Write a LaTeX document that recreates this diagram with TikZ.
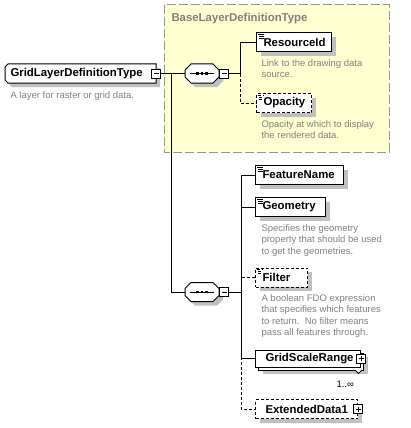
\documentclass[tikz,border=0pt]{standalone}
\usepackage{fontspec}
\setmainfont{Liberation Sans}
\usetikzlibrary{shadows}
\definecolor{ybg}{RGB}{255,255,208}
\definecolor{ybd}{RGB}{150,150,150}
\definecolor{dtxt}{RGB}{128,128,128}
\definecolor{shd}{RGB}{192,192,192}
\newcommand\octshape[4]{(#1+6,#2) -- (#3-6,#2) -- (#3,#2+6) -- (#3,#4-6) -- (#3-6,#4) -- (#1+6,#4) -- (#1,#4-6) -- (#1,#2+6) -- cycle}
\newcommand\lb[2]{\makebox[#1pt][l]{#2}}
\begin{document}
\begin{tikzpicture}[x=1pt,y=-1pt,line width=1pt,
  lbl/.style={font=\fontsize{11.4}{13}\selectfont\bfseries},
  desc/.style={font=\fontsize{9.5}{11.5}\selectfont, text=dtxt, align=left, anchor=north west, inner sep=0pt},
  elemns/.style={draw, fill=white, lbl, minimum height=19pt, inner ysep=0pt, inner xsep=7pt, anchor=west},
  elem/.style={elemns, drop shadow={shadow xshift=4pt, shadow yshift=-4pt, fill=shd, opacity=1}},
  icon/.style={path picture={
      \draw[line width=0.8pt] ([shift={(1.5,1.5)}]path picture bounding box.north west) -- +(6,0);
      \draw[line width=0.8pt] ([shift={(2.5,3.5)}]path picture bounding box.north west) -- +(5,0);
      \draw[line width=0.8pt] ([shift={(2.5,5.5)}]path picture bounding box.north west) -- +(5,0);}},
  opt/.style={dash pattern=on 3pt off 2pt},
  pmbox/.style={draw, fill=white, minimum size=9pt, inner sep=0pt, line width=0.9pt},
  minus/.style={pmbox, path picture={
      \draw[line width=0.9pt] ([xshift=2pt]path picture bounding box.west) -- ([xshift=-2pt]path picture bounding box.east);}},
  plus/.style={pmbox, path picture={
      \draw[line width=0.9pt] ([xshift=2pt]path picture bounding box.west) -- ([xshift=-2pt]path picture bounding box.east);
      \draw[line width=0.9pt] ([yshift=2pt]path picture bounding box.south) -- ([yshift=-2pt]path picture bounding box.north);}},
  seq/.style={minimum width=34pt, minimum height=19pt, inner sep=0pt}
]
\useasboundingbox (0,0) rectangle (410,428);

% base type group
\draw[ybd, fill=ybg, dash pattern=on 9pt off 3pt] (164,5) rectangle (389,152);
\node[lbl, text=dtxt, anchor=west, inner sep=0pt] (title) at (171,19) {BaseLayerDefinitionType};

% root complex type
\fill[shd] (12,68) -- (160,68) -- (160,87) -- (12,87) -- (9,84) -- (9,71) -- cycle;
\draw[fill=white] (8,64) -- (156,64) -- (156,83) -- (8,83) -- (5,80) -- (5,67) -- cycle;
\node[lbl, anchor=west, inner xsep=5pt, inner ysep=0pt, minimum height=19pt] (gl) at (5,73.5) {\lb{141}{GridLayerDefinitionType}};
\node[minus] (glm) at (156,73.5) {};
\node[desc] (gld) at (10,91) {A layer for raster or grid data.};

% sequence 1
\fill[shd] \octshape{189}{68}{223}{87};
\draw[fill=white] \octshape{185}{64}{219}{83};
\node[seq] (s1) at (202,73.5) {};
\draw (s1.center) ++(-12,0) -- ++(24,0);
\foreach \d in {-4.5,0,4.5} \fill ([xshift=\d pt]s1.center) +(-1.4,-1.4) rectangle +(1.4,1.4);
\node[minus] (s1m) at (224,73.5) {};

% sequence 2
\fill[shd] \octshape{189}{286.5}{223}{305.5};
\draw[fill=white] \octshape{185}{282.5}{219}{301.5};
\node[seq] (s2) at (202,292) {};
\draw (s2.center) ++(-12,0) -- ++(24,0);
\foreach \d in {-4.5,0,4.5} \fill ([xshift=\d pt]s2.center) +(-1.4,-1.4) rectangle +(1.4,1.4);
\node[minus] (s2m) at (224,292) {};

% elements of base type
\node[elem, icon] (rid) at (256,42.5) {\lb{61}{ResourceId}};
\node[desc] (ridd) at (261,59) {Link to the drawing data\\source.};
\node[elem, icon, opt] (opa) at (256,103) {\lb{41}{Opacity}};
\node[desc] (opad) at (261,120) {Opacity at which to display\\the rendered data.};

% elements of extension
\node[elem, icon] (fn) at (255,175) {\lb{74}{FeatureName}};
\node[elem, icon] (geo) at (255,207) {\lb{56}{Geometry}};
\node[desc] (geod) at (261,224) {Specifies the geometry\\property that should be used\\to get the geometries.};
\node[elem, icon, opt] (fil) at (255,277.5) {\lb{38}{Filter}};
\node[desc] (fild) at (261,294) {A boolean FDO expression\\that specifies which features\\to return.\ \ No filter means\\pass all features through.};

\node[elem, minimum height=17pt, inner xsep=10pt] (gsrb) at (258,361.5) {\lb{85}{}};
\node[elemns, minimum height=17pt, inner xsep=10pt] (gsr) at (255,358.5) {\lb{85}{GridScaleRange}};
\node[plus] (gsrp) at (gsr.east) {};
\draw[fill=white, line width=0.8pt] (355,370) -- (358.5,373.5) -- (362,370);
\node[font=\fontsize{9.5}{11}\selectfont, anchor=west, inner sep=0pt] (mult) at (336,384) {1..∞};

\node[elem, opt, inner xsep=10pt] (ext) at (255,409) {\lb{82}{ExtendedData1}};
\node[plus] (extp) at (ext.east) {};

% connectors
\coordinate (j0) at (171,73.5);
\coordinate (b1) at (240,73.5);
\coordinate (b2) at (241,292);
\draw (glm.east) -- (s1.west);
\draw (j0) |- (s2.west);
\draw (s1m.east) -- (b1);
\draw[opt] (b1) |- (opa.west);
\draw (b1) |- (rid.west);
\draw (s2m.east) -- (b2);
\draw[opt] (b2) |- (ext.west);
\draw[opt] (b2) |- (fil.west);
\draw (b2) |- (fn.west);
\draw (b2) |- (geo.west);
\draw (b2) |- (gsr.west);
\end{tikzpicture}
\end{document}
